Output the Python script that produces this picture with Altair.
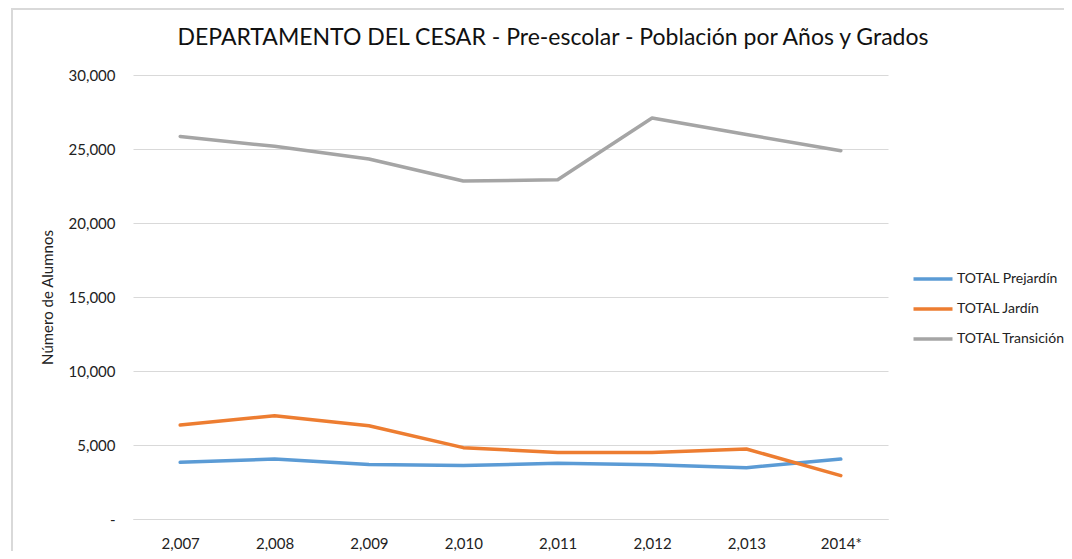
import altair as alt
import pandas as pd

years = ["2,007", "2,008", "2,009", "2,010", "2,011", "2,012", "2,013", "2014*"]
series_names = ["TOTAL Prejardín", "TOTAL Jardín", "TOTAL Transición"]
prejardin = [3830, 4050, 3690, 3610, 3760, 3670, 3470, 4050]
jardin = [6350, 6980, 6300, 4820, 4500, 4500, 4730, 2930]
transicion = [25850, 25180, 24320, 22840, 22920, 27090, 25980, 24880]
colors = ["#5B9BD5", "#ED7D31", "#A5A5A5"]
title_text = "DEPARTAMENTO DEL CESAR - Pre-escolar - Población por Años y Grados"

rows = []
for name, vals in zip(series_names, [prejardin, jardin, transicion]):
    for i, (y, v) in enumerate(zip(years, vals)):
        rows.append({"Año": y, "Serie": name, "Valor": v, "orden": i})
df = pd.DataFrame(rows)

FONT = "Lato"

lines = alt.Chart(df).mark_line(strokeWidth=3.5, strokeCap="round", strokeJoin="round").encode(
    x=alt.X("Año:N", sort=years, scale=alt.Scale(paddingInner=0, paddingOuter=0.5),
            axis=alt.Axis(title=None, labelAngle=0, ticks=False, domain=True, domainColor="#d9d9d9",
                          labelFontSize=15, labelPadding=17, labelColor="#222222", grid=False)),
    y=alt.Y("Valor:Q", scale=alt.Scale(domain=[0, 30000], nice=False),
            axis=alt.Axis(title="Número de Alumnos", values=[0, 5000, 10000, 15000, 20000, 25000, 30000],
                          labelExpr="datum.value == 0 ? '-' : format(datum.value, ',')",
                          ticks=False, domain=False, gridColor="#d9d9d9", labelFontSize=15,
                          labelPadding=18, labelColor="#222222", titleFontSize=15, titleFontWeight="normal",
                          titleColor="#222222", titleX=-86, titleY=222, titleAngle=-90,
                          titleAlign="center", titleBaseline="middle")),
    color=alt.Color("Serie:N", sort=series_names,
                    scale=alt.Scale(domain=series_names, range=colors),
                    legend=alt.Legend(title=None, orient="none", legendX=783, legendY=187,
                                      symbolType="M-1.3,0H1.3", symbolSize=900, symbolStrokeWidth=3.5,
                                      labelFontSize=14, labelColor="#222222", labelOffset=7,
                                      rowPadding=6, labelLimit=300)),
    order=alt.Order("orden:Q"),
)

one = pd.DataFrame({"t": [title_text]})

border = alt.Chart(one).mark_rect(
    fill=None, stroke="#d9d9d9", strokeWidth=2, clip=False
).encode(
    x=alt.value(-121), x2=alt.value(1000), y=alt.value(-66), y2=alt.value(600)
)

title = alt.Chart(one).mark_text(
    font=FONT, fontSize=23, color="#111111", align="center", baseline="alphabetic"
).encode(
    x=alt.value(420), y=alt.value(-30), text="t:N"
)

chart = alt.layer(border, title, lines).properties(
    width=755,
    height=444,
    autosize=alt.AutoSizeParams(type="none"),
    padding={"left": 125, "top": 67, "right": 176, "bottom": 32},
).configure(font=FONT).configure_view(stroke=None).configure_axis(labelFont=FONT, titleFont=FONT).configure_legend(labelFont=FONT)

chart.save("out.html", embed_options={"renderer": "svg", "actions": False})
